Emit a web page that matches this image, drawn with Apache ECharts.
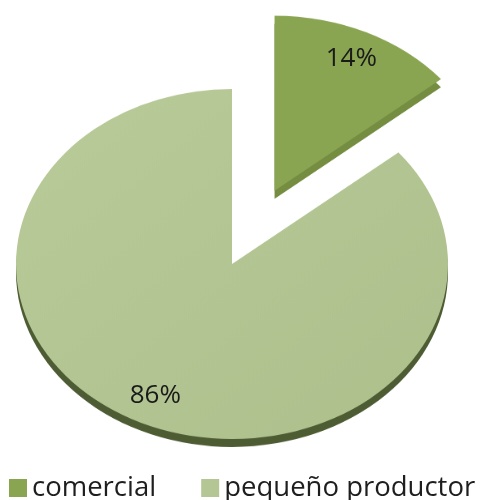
<!DOCTYPE html>
<html>
<head>
<meta charset="utf-8">
<script src="https://cdn.jsdelivr.net/npm/echarts@6/dist/echarts.min.js"></script>
<style>
html, body { margin: 0; padding: 0; background: #fff; overflow: hidden; }
#wrap { position: relative; width: 481px; height: 500px; overflow: hidden; }
#pie { position: absolute; left: 0; top: -150px; width: 481px; height: 800px; }
#top { position: absolute; left: 0; top: 0; width: 481px; height: 500px; }
</style>
</head>
<body>
<div id="wrap"><div id="pie"></div><div id="top"></div></div>
<script>
var categories = ['comercial', 'pequeño productor'];
var values = [14, 86];
var exploded = [true, false];
var colors = ['#8aa552', '#b4c693'];
var sideColors = ['#748d40', '#4e5c34'];

// the pie is tilted like the excel 3d pie: draw it round, then squash it
var cx = 232, cy = 264, radius = 216, squash = 0.81, depth = 8, offset = 100;
var pad = 150; // the pie canvas is taller so the exploded slice is not cut

var pieDiv = document.getElementById('pie');
pieDiv.style.transformOrigin = '0 ' + (cy + pad) + 'px';
pieDiv.style.transform = 'scaleY(' + squash + ')';

function slices(colorList, withGradient) {
  return categories.map(function(name, i) {
    var color = colorList[i];
    if (withGradient && i == 1) {
      color = new echarts.graphic.LinearGradient(0, 0, 1, 1, [
        { offset: 0, color: '#b9cb99' },
        { offset: 1, color: '#adbf8b' }
      ]);
    }
    return {
      name: name,
      value: values[i],
      selected: exploded[i],
      itemStyle: { color: color }
    };
  });
}

var pieChart = echarts.init(pieDiv);
pieChart.setOption({
  animation: false,
  series: [{
    type: 'pie',
    silent: true,
    center: [cx, cy + pad + depth / squash],
    radius: radius,
    startAngle: 90,
    selectedMode: 'single',
    selectedOffset: offset,
    label: { show: false },
    labelLine: { show: false },
    data: slices(sideColors, false)
  }, {
    type: 'pie',
    silent: true,
    center: [cx, cy + pad],
    radius: radius,
    startAngle: 90,
    selectedMode: 'single',
    selectedOffset: offset,
    label: { show: false },
    labelLine: { show: false },
    data: slices(colors, true)
  }]
});

// labels and legend go on a flat layer so the text is not squashed
var topChart = echarts.init(document.getElementById('top'));
topChart.setOption({
  animation: false,
  legend: {
    left: 4,
    top: 469,
    icon: 'rect',
    itemWidth: 18,
    itemHeight: 18,
    itemGap: 45,
    textStyle: { fontFamily: 'Open Sans', fontSize: 27.5, color: '#1e1e1e' },
    data: categories.map(function(name, i) {
      return { name: name, itemStyle: { color: colors[i], opacity: 1 } };
    })
  },
  series: [{
    type: 'pie',
    silent: true,
    center: [cx, cy],
    radius: [radius * 0.64, radius],
    startAngle: 90,
    itemStyle: { color: 'rgba(0,0,0,0)' },
    label: {
      show: true,
      position: 'inside',
      fontFamily: 'Open Sans',
      fontSize: 26,
      color: '#1a1a1a',
      formatter: function(p) { return Math.round(p.percent) + '%'; }
    },
    labelLine: { show: false },
    labelLayout: function(p) {
      var r = p.labelRect;
      var x = r.x + r.width / 2;
      var y = r.y + r.height / 2;
      if (exploded[p.dataIndex]) {
        var len = Math.sqrt((x - cx) * (x - cx) + (y - cy) * (y - cy));
        x += offset * (x - cx) / len;
        y += offset * (y - cy) / len;
      }
      return { x: x, y: cy + (y - cy) * squash };
    },
    data: categories.map(function(name, i) {
      return { name: name, value: values[i] };
    })
  }]
});
</script>
</body>
</html>
